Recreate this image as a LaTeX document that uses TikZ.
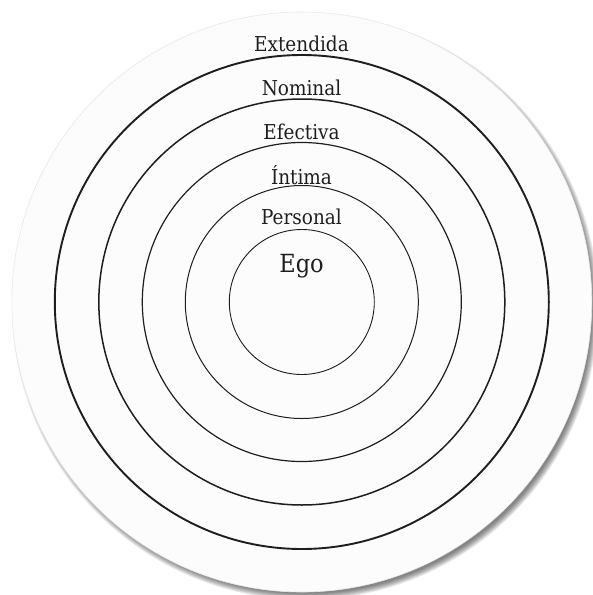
\documentclass[tikz,border=0pt]{standalone}
\usepackage{amsmath}
\usepackage{xcolor}
\usepackage{fontspec}
\setmainfont{DejaVu Serif Condensed}
\usepackage{tikz}
\usetikzlibrary{positioning,calc}
\definecolor{discgray}{HTML}{FCFCFC}
\definecolor{inkgray}{HTML}{1E1E1E}

\begin{document}
\begin{tikzpicture}[
  x=1pt, y=-1pt,
  every node/.style={font=\fontsize{20.5}{24}\selectfont, text=inkgray},
  ring/.style={circle, draw=inkgray, inner sep=0pt},
  disc/.style={circle, fill=discgray, draw=gray!18, line width=0.6pt, inner sep=0pt, minimum size=580pt},
  lbl/.style={anchor=base, inner sep=0pt}
]
\useasboundingbox (0,0) rectangle (593,595);

\coordinate (ctr) at (301.8,302);

% Soft shadow behind the disc
\foreach \k in {0,...,7}
  \fill[black, opacity=0.08] ($(ctr)+(3.5,4.5)$) circle ({287+\k*0.9});

% Outer disc
\node[disc] (extendida) at (ctr) {};

% Rings, outer to inner
\node[ring, line width=1.9pt, minimum size=494pt] (nominal) at (ctr) {};
\node[ring, line width=1.5pt, minimum size=406pt] (efectiva) at (ctr) {};
\node[ring, line width=1.2pt, minimum size=319pt] (intima) at (ctr) {};
\node[ring, line width=1.0pt, minimum size=233pt] (personal) at (ctr) {};
\node[ring, line width=0.9pt, minimum size=145pt] (ego) at (ctr) {};

% Labels
\node[lbl] (lextendida) at (301.5,51.5) {Extendida};
\node[lbl] (lnominal) at (301.5,95.3) {Nominal};
\node[lbl] (lefectiva) at (301.5,139.2) {Efectiva};
\node[lbl] (lintima) at (301.5,184.6) {Íntima};
\node[lbl] (lpersonal) at (301.5,224) {Personal};
\node[lbl, font=\fontsize{25}{28}\selectfont] (lego) at (301.5,272.3) {Ego};

\end{tikzpicture}
\end{document}
